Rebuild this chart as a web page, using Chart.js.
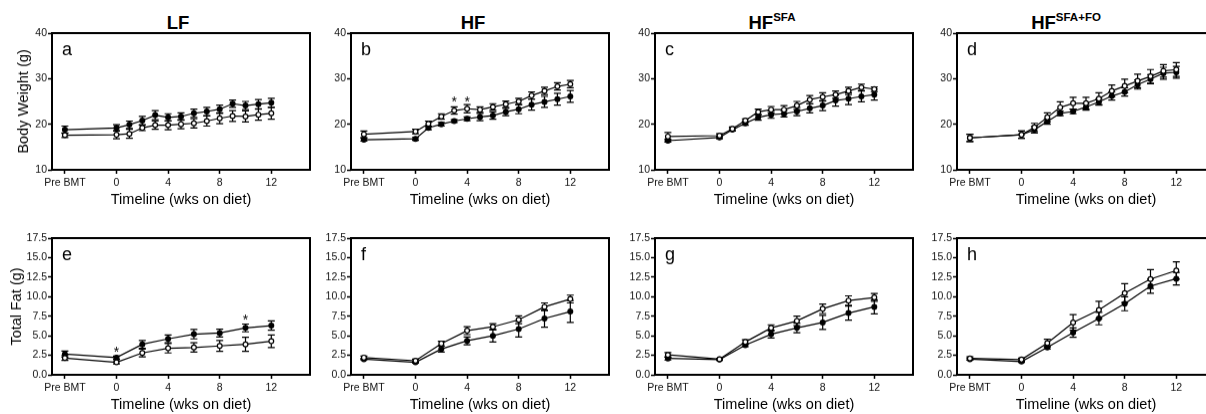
<!DOCTYPE html>
<html>
<head>
<meta charset="utf-8">
<script src="https://cdn.jsdelivr.net/npm/chart.js@4.4.0/dist/chart.umd.min.js"></script>
<style>
  body { margin: 0; background: #fff; overflow: hidden; font-family: "Liberation Sans", Arial, sans-serif; }
  #fig { position: relative; width: 1206px; height: 414px; overflow: hidden; background: #fff; }
  #fig canvas { position: absolute; }
  .head { position: absolute; top: 14px; font-weight: bold; font-size: 18.5px; line-height: 18.5px;
          transform: translateX(-50%); white-space: nowrap; color: #000; }
  .head span { position: relative; top: -8px; font-size: 11.5px; }
</style>
</head>
<body>
<div id="fig">
  <div class="head" style="left:178px">LF</div>
  <div class="head" style="left:473px">HF</div>
  <div class="head" style="left:772px">HF<span>SFA</span></div>
  <div class="head" style="left:1066px">HF<span>SFA+FO</span></div>
</div>

<script>
// time points (weeks on diet, Pre BMT sits at -4)
const weeksBW = [-4, 0, 1, 2, 3, 4, 5, 6, 7, 8, 9, 10, 11, 12];
const weeksFat = [-4, 0, 2, 4, 6, 8, 10, 12];
const xTickValues = [-4, 0, 4, 8, 12];
const xTickLabels = ['Pre BMT', '0', '4', '8', '12'];
const bwTicks = [10, 20, 30, 40];
const fatTicks = [0, 2.5, 5, 7.5, 10, 12.5, 15, 17.5];
const panelLetters = ['a', 'b', 'c', 'd', 'e', 'f', 'g', 'h'];

// body weight (g): mean and SEM
const bwLFOpen = [17.6, 17.7, 17.9, 19.2, 19.8, 19.8, 20.0, 20.2, 20.7, 21.3, 21.8, 21.7, 22.1, 22.4];
const bwLFOpenErr = [0.5, 0.9, 1.0, 0.6, 0.9, 1.0, 1.0, 1.0, 1.1, 1.2, 1.2, 1.2, 1.2, 1.3];
const bwLFFill = [18.8, 19.2, 19.9, 20.8, 22.0, 21.5, 21.7, 22.4, 22.8, 23.3, 24.5, 24.1, 24.4, 24.7];
const bwLFFillErr = [0.8, 0.7, 0.8, 0.9, 1.0, 0.8, 0.8, 0.9, 0.9, 0.9, 0.8, 0.9, 1.0, 1.0];

const bwHFOpen = [17.8, 18.4, 20.1, 21.7, 23.0, 23.4, 23.2, 23.8, 24.4, 25.0, 26.3, 27.3, 28.3, 28.8];
const bwHFOpenErr = [0.7, 0.5, 0.6, 0.6, 0.8, 0.9, 0.6, 0.7, 0.7, 0.7, 0.8, 0.8, 0.8, 0.8];
const bwHFFill = [16.6, 16.8, 19.2, 20.0, 20.7, 21.2, 21.6, 21.9, 22.7, 23.3, 24.3, 24.9, 25.5, 26.1];
const bwHFFillErr = [0.3, 0.3, 0.4, 0.4, 0.3, 0.4, 0.8, 0.8, 0.8, 1.0, 1.2, 1.2, 1.3, 1.3];

const bwSFAOpen = [17.3, 17.5, 19.0, 20.8, 22.7, 23.2, 23.2, 24.1, 25.4, 26.0, 26.5, 27.3, 28.1, 27.7];
const bwSFAOpenErr = [0.9, 0.4, 0.4, 0.4, 0.6, 0.7, 0.9, 0.9, 0.9, 0.9, 0.8, 0.8, 0.7, 0.5];
const bwSFAFill = [16.4, 17.1, 18.8, 20.2, 21.5, 22.1, 22.3, 22.8, 23.5, 24.1, 25.2, 25.6, 26.1, 26.5];
const bwSFAFillErr = [0.3, 0.3, 0.3, 0.4, 0.6, 0.8, 0.7, 0.9, 1.0, 1.1, 1.2, 1.3, 1.2, 1.2];

const bwFOOpen = [17.0, 17.7, 19.3, 21.5, 23.7, 24.6, 24.6, 25.6, 27.3, 28.4, 29.5, 30.5, 31.7, 32.0];
const bwFOOpenErr = [0.8, 0.8, 0.9, 1.0, 1.2, 1.3, 1.3, 1.3, 1.3, 1.5, 1.5, 1.5, 1.4, 1.5];
const bwFOFill = [17.0, 17.7, 18.8, 20.6, 22.4, 22.8, 23.8, 24.9, 26.2, 27.1, 28.7, 29.9, 31.2, 31.4];
const bwFOFillErr = [0.8, 0.8, 0.7, 0.6, 0.5, 0.5, 0.7, 0.7, 0.9, 0.9, 1.0, 1.0, 1.3, 1.3];

// total fat (g): mean and SEM
const fatLFOpen = [2.15, 1.6, 2.8, 3.4, 3.5, 3.7, 3.9, 4.3];
const fatLFOpenErr = [0.3, 0.2, 0.5, 0.6, 0.6, 0.7, 0.9, 0.8];
const fatLFFill = [2.65, 2.2, 3.9, 4.6, 5.2, 5.35, 6.0, 6.3];
const fatLFFillErr = [0.4, 0.2, 0.5, 0.5, 0.6, 0.5, 0.5, 0.6];

const fatHFOpen = [2.2, 1.8, 4.0, 5.65, 6.15, 7.05, 8.7, 9.7];
const fatHFOpenErr = [0.2, 0.2, 0.3, 0.5, 0.4, 0.5, 0.5, 0.5];
const fatHFFill = [2.0, 1.6, 3.3, 4.35, 5.0, 5.85, 7.2, 8.1];
const fatHFFillErr = [0.1, 0.1, 0.4, 0.5, 0.8, 1.0, 1.1, 1.4];

const fatSFAOpen = [2.55, 2.0, 4.2, 6.0, 6.9, 8.45, 9.5, 9.9];
const fatSFAOpenErr = [0.3, 0.1, 0.3, 0.4, 0.6, 0.6, 0.6, 0.5];
const fatSFAFill = [2.1, 1.95, 3.8, 5.2, 6.0, 6.7, 7.9, 8.7];
const fatSFAFillErr = [0.2, 0.1, 0.2, 0.5, 0.6, 0.9, 0.9, 0.9];

const fatFOOpen = [2.1, 1.95, 4.05, 6.7, 8.3, 10.45, 12.25, 13.35];
const fatFOOpenErr = [0.2, 0.2, 0.5, 1.0, 1.1, 1.2, 1.2, 1.1];
const fatFOFill = [2.0, 1.7, 3.5, 5.4, 7.2, 9.1, 11.35, 12.3];
const fatFOFillErr = [0.1, 0.1, 0.2, 0.6, 0.8, 0.9, 0.9, 0.8];

// significance marks: [week, value]
const starsBWHF = [[3, 25.6], [4, 25.6]];
const starsFatLF = [[0, 3.4], [10, 7.4]];

const FONT = '"Liberation Sans", Arial, sans-serif';
const colLeft = [52, 351, 655, 957];
const rowTop = [33.3, 238];
const plotW = 258;
const plotH = 136.7;

const panels = [
  { weeks: weeksBW, open: bwLFOpen, openErr: bwLFOpenErr, fill: bwLFFill, fillErr: bwLFFillErr, yTicks: bwTicks, stars: [], yTitle: 'Body Weight (g)' },
  { weeks: weeksBW, open: bwHFOpen, openErr: bwHFOpenErr, fill: bwHFFill, fillErr: bwHFFillErr, yTicks: bwTicks, stars: starsBWHF },
  { weeks: weeksBW, open: bwSFAOpen, openErr: bwSFAOpenErr, fill: bwSFAFill, fillErr: bwSFAFillErr, yTicks: bwTicks, stars: [] },
  { weeks: weeksBW, open: bwFOOpen, openErr: bwFOOpenErr, fill: bwFOFill, fillErr: bwFOFillErr, yTicks: bwTicks, stars: [] },
  { weeks: weeksFat, open: fatLFOpen, openErr: fatLFOpenErr, fill: fatLFFill, fillErr: fatLFFillErr, yTicks: fatTicks, stars: starsFatLF, yTitle: 'Total Fat (g)' },
  { weeks: weeksFat, open: fatHFOpen, openErr: fatHFOpenErr, fill: fatHFFill, fillErr: fatHFFillErr, yTicks: fatTicks, stars: [] },
  { weeks: weeksFat, open: fatSFAOpen, openErr: fatSFAOpenErr, fill: fatSFAFill, fillErr: fatSFAFillErr, yTicks: fatTicks, stars: [] },
  { weeks: weeksFat, open: fatFOOpen, openErr: fatFOOpenErr, fill: fatFOFill, fillErr: fatFOFillErr, yTicks: fatTicks, stars: [] }
];

// error bars under the markers, frame + panel letter + asterisks on top
const panelDecor = {
  id: 'panelDecor',
  beforeDatasetsDraw(chart) {
    const { ctx, scales: { x, y } } = chart;
    ctx.save();
    ctx.strokeStyle = '#000';
    ctx.lineWidth = 1.2;
    chart.data.datasets.forEach(ds => {
      ds.data.forEach((pt, i) => {
        const e = ds.errors[i];
        const px = x.getPixelForValue(pt.x);
        const top = y.getPixelForValue(pt.y + e);
        const bot = y.getPixelForValue(pt.y - e);
        ctx.beginPath();
        ctx.moveTo(px, top); ctx.lineTo(px, bot);
        ctx.moveTo(px - 3.5, top); ctx.lineTo(px + 3.5, top);
        ctx.moveTo(px - 3.5, bot); ctx.lineTo(px + 3.5, bot);
        ctx.stroke();
      });
    });
    ctx.restore();
  },
  afterDraw(chart, args, opts) {
    const { ctx, chartArea: a, scales: { x, y } } = chart;
    ctx.save();
    ctx.strokeStyle = '#000';
    ctx.lineWidth = 2;
    ctx.strokeRect(a.left, a.top, a.right - a.left, a.bottom - a.top);
    ctx.fillStyle = '#000';
    ctx.font = '18px ' + FONT;
    ctx.textAlign = 'left';
    ctx.textBaseline = 'alphabetic';
    ctx.fillText(opts.letter, a.left + 10, a.top + 22);
    ctx.font = '14px ' + FONT;
    ctx.textAlign = 'center';
    opts.stars.forEach(([wk, val]) => {
      ctx.fillText('*', x.getPixelForValue(wk), y.getPixelForValue(val) + 8);
    });
    ctx.restore();
  }
};

const fig = document.getElementById('fig');
const padL = 48, padT = 12, padR = 12, xAxisH = 41;

panels.forEach((p, idx) => {
  const row = Math.floor(idx / 4), col = idx % 4;
  const canvas = document.createElement('canvas');
  const w = padL + plotW + padR, h = padT + plotH + xAxisH;
  canvas.width = w; canvas.height = h;
  canvas.style.left = (colLeft[col] - padL) + 'px';
  canvas.style.top = (rowTop[row] - padT) + 'px';
  canvas.style.width = w + 'px'; canvas.style.height = h + 'px';
  fig.appendChild(canvas);

  const yMin = p.yTicks[0], yMax = p.yTicks[p.yTicks.length - 1];
  const tickFont = { family: FONT, size: 10.5 };

  new Chart(canvas, {
    type: 'line',
    data: {
      datasets: [{
        data: p.weeks.map((wk, i) => ({ x: wk, y: p.open[i] })),
        errors: p.openErr,
        borderColor: '#000',
        borderWidth: 1.2,
        pointRadius: 2.4,
        pointBackgroundColor: '#fff',
        pointBorderColor: '#000',
        pointBorderWidth: 1.2
      }, {
        data: p.weeks.map((wk, i) => ({ x: wk, y: p.fill[i] })),
        errors: p.fillErr,
        borderColor: '#000',
        borderWidth: 1.2,
        pointRadius: 2.4,
        pointBackgroundColor: '#000',
        pointBorderColor: '#000',
        pointBorderWidth: 1.2
      }]
    },
    options: {
      responsive: false,
      animation: false,
      events: [],
      layout: { padding: { top: padT, right: padR, left: 0, bottom: 0 } },
      plugins: {
        legend: { display: false },
        tooltip: { enabled: false },
        panelDecor: { letter: panelLetters[idx], stars: p.stars }
      },
      scales: {
        x: {
          type: 'linear',
          min: -5,
          max: 15,
          afterBuildTicks: s => { s.ticks = xTickValues.map(v => ({ value: v })); },
          afterFit: s => { s.height = xAxisH; },
          ticks: {
            autoSkip: false,
            maxRotation: 0,
            padding: 3,
            color: '#111',
            font: tickFont,
            callback: v => xTickLabels[xTickValues.indexOf(v)]
          },
          grid: { display: true, drawOnChartArea: false, drawTicks: true, tickLength: 4, tickWidth: 1.5, tickColor: '#000' },
          border: { display: false },
          title: {
            display: true,
            text: 'Timeline (wks on diet)',
            color: '#000',
            font: { family: FONT, size: 14.5 },
            padding: { top: 0, bottom: 2 }
          }
        },
        y: {
          min: yMin,
          max: yMax,
          afterBuildTicks: s => { s.ticks = p.yTicks.map(v => ({ value: v })); },
          afterFit: s => { s.width = padL; },
          ticks: {
            autoSkip: false,
            padding: 1,
            color: '#111',
            font: tickFont,
            callback: v => (row === 1 ? v.toFixed(1) : String(v))
          },
          grid: { display: true, drawOnChartArea: false, drawTicks: true, tickLength: 4, tickWidth: 1.5, tickColor: '#000' },
          border: { display: false },
          title: {
            display: !!p.yTitle,
            text: p.yTitle || '',
            color: '#000',
            font: { family: FONT, size: 14.5 },
            padding: { top: row === 0 ? 11 : 4, bottom: 0 }
          }
        }
      }
    },
    plugins: [panelDecor]
  });
});
</script>
</body>
</html>
